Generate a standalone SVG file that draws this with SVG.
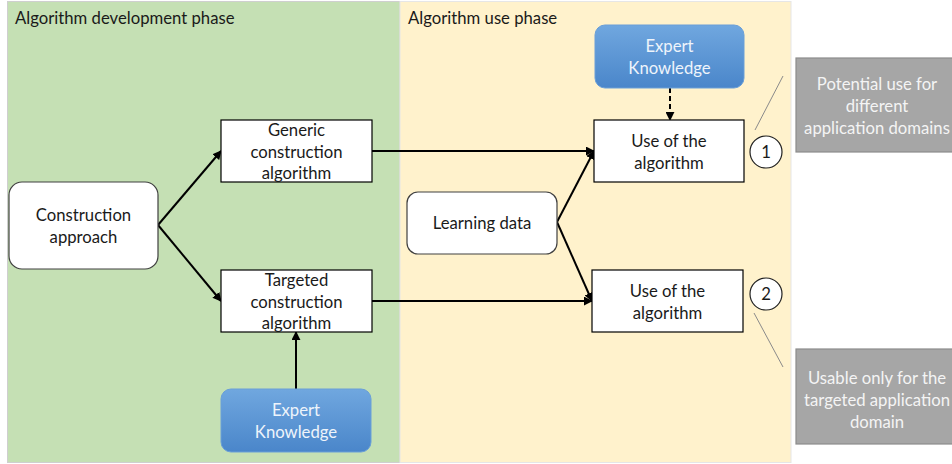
<svg xmlns="http://www.w3.org/2000/svg" width="952" height="464" viewBox="0 0 952 464">
<defs>
<linearGradient id="blue" x1="0" y1="0" x2="0" y2="1">
<stop offset="0" stop-color="#70a7df"/>
<stop offset="1" stop-color="#4a86ca"/>
</linearGradient>
<marker id="ah" viewBox="0 0 10 10" refX="9" refY="5" markerWidth="4.5" markerHeight="4.5" orient="auto">
<path d="M0,0 L10,5 L0,10 z" fill="#000"/>
</marker>
</defs>
<style>
text{font-family:Lato,"Liberation Sans",sans-serif;font-size:16.7px;fill:#1a1a1a;text-anchor:middle}
.title{text-anchor:start}
.box{fill:#fff;stroke:#000;stroke-width:1.2}
.rbox{fill:#fff;stroke:#404040;stroke-width:1.2}
.exp{fill:url(#blue);stroke:#6a9fd8;stroke-width:1}
.wt{fill:#eef4fb}
.gray{fill:#a6a6a6;stroke:#8c8c8c;stroke-width:1.2}
.gt{fill:#f4f4f4}
.con{stroke:#000;stroke-width:2;fill:none;marker-end:url(#ah)}
.lead{stroke:#8a8a8a;stroke-width:1;fill:none}
</style>
<rect x="0" y="0" width="952" height="464" fill="#fff"/>
<g id="panel-dev">
<rect x="7.5" y="1.5" width="392.5" height="461" fill="#c5e0b4" stroke="#cfcfcf" stroke-width="1"/>
<text class="title" x="15" y="24">Algorithm development phase</text>
</g>
<g id="panel-use">
<rect x="400" y="1.5" width="391" height="461" fill="#fff2cc" stroke="#e6e6e6" stroke-width="1"/>
<text class="title" x="408" y="24">Algorithm use phase</text>
</g>
<g id="connectors">
<line class="con" x1="158" y1="225" x2="221" y2="151"/>
<line class="con" x1="158" y1="225" x2="221" y2="301"/>
<line class="con" x1="372" y1="151" x2="594" y2="151"/>
<line class="con" x1="372" y1="301" x2="592" y2="301"/>
<line class="con" x1="557" y1="222" x2="594" y2="151"/>
<line class="con" x1="557" y1="222" x2="592" y2="301"/>
<line class="con" x1="296" y1="389" x2="296" y2="332"/>
<line class="con" x1="670" y1="88" x2="670" y2="120" stroke-dasharray="5,3"/>
<line class="lead" x1="783" y1="76" x2="755" y2="130"/>
<line class="lead" x1="754" y1="313" x2="783" y2="367"/>
</g>
<g id="construction-approach">
<rect class="rbox" x="9" y="182" width="149" height="87" rx="13"/>
<text x="83.5" y="221">Construction</text>
<text x="83.5" y="243">approach</text>
</g>
<g id="generic">
<rect class="box" x="221" y="120" width="151" height="62"/>
<text x="296.5" y="136">Generic</text>
<text x="296.5" y="158">construction</text>
<text x="296.5" y="179">algorithm</text>
</g>
<g id="targeted">
<rect class="box" x="221" y="270" width="151" height="62"/>
<text x="296.5" y="286">Targeted</text>
<text x="296.5" y="308">construction</text>
<text x="296.5" y="329">algorithm</text>
</g>
<g id="expert-bottom">
<rect class="exp" x="221" y="389" width="150" height="63" rx="10"/>
<text class="wt" x="296" y="416">Expert</text>
<text class="wt" x="296" y="438">Knowledge</text>
</g>
<g id="expert-top">
<rect class="exp" x="595" y="25" width="149" height="63" rx="10"/>
<text class="wt" x="669.5" y="52">Expert</text>
<text class="wt" x="669.5" y="74">Knowledge</text>
</g>
<g id="learning-data">
<rect class="rbox" x="407" y="192" width="150" height="62" rx="11"/>
<text x="482" y="229">Learning data</text>
</g>
<g id="use1">
<rect class="box" x="594" y="120" width="150" height="62"/>
<text x="669" y="147">Use of the</text>
<text x="669" y="169">algorithm</text>
</g>
<g id="use2">
<rect class="box" x="592" y="270" width="151" height="62"/>
<text x="667.5" y="297">Use of the</text>
<text x="667.5" y="319">algorithm</text>
</g>
<g id="circle1">
<circle cx="766" cy="152" r="16" fill="#fff" stroke="#222" stroke-width="1.2"/>
<text x="766" y="158">1</text>
</g>
<g id="circle2">
<circle cx="766" cy="294" r="16" fill="#fff" stroke="#222" stroke-width="1.2"/>
<text x="766" y="300">2</text>
</g>
<g id="note1">
<rect class="gray" x="796" y="58" width="170" height="94"/>
<text class="gt" x="877" y="90">Potential use for</text>
<text class="gt" x="877" y="112">different</text>
<text class="gt" x="877" y="134">application domains</text>
</g>
<g id="note2">
<rect class="gray" x="796" y="349" width="170" height="95"/>
<text class="gt" x="877" y="384">Usable only for the</text>
<text class="gt" x="877" y="406">targeted application</text>
<text class="gt" x="877" y="428">domain</text>
</g>
</svg>
